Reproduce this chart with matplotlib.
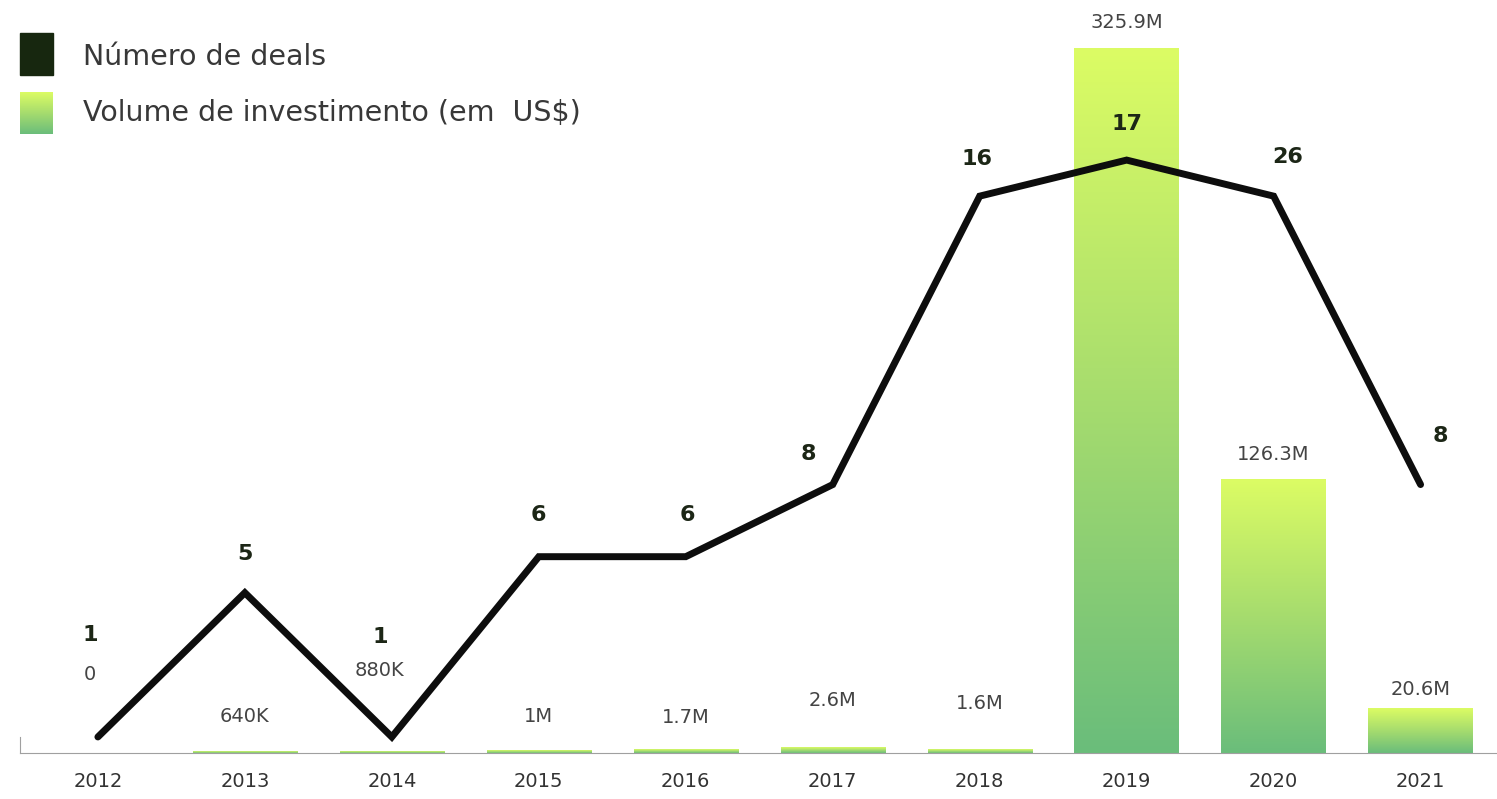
import matplotlib.pyplot as plt
import numpy as np
from matplotlib.colors import LinearSegmentedColormap
from matplotlib.patches import Rectangle

years = ["2012", "2013", "2014", "2015", "2016", "2017", "2018", "2019", "2020", "2021"]

# Investment volume in millions of US$
volume = [0, 0.64, 0.88, 1.0, 1.7, 2.6, 1.6, 325.9, 126.3, 20.6]
volume_labels = ["0", "640K", "880K", "1M", "1.7M", "2.6M", "1.6M", "325.9M", "126.3M", "20.6M"]

# Number of deals (line as drawn) and the numbers printed above it
deals = [1, 5, 1, 6, 6, 8, 16, 17, 16, 8]
deal_labels = ["1", "5", "1", "6", "6", "8", "16", "17", "26", "8"]

# label offsets in pixels (dx, dy) from the top of each bar / line point
vol_off = [(-8, 78), (0, 35), (-12, 81), (0, 34), (0, 32), (0, 47), (0, 46), (0, 26), (0, 25), (0, 19)]
deal_off = [(-8, 102), (0, 39), (-12, 100), (0, 42), (2, 42), (-24, 31), (-3, 37), (0, 36), (14, 39), (20, 49)]

green = LinearSegmentedColormap.from_list("greens", ["#6abd7b", "#a6dc6e", "#dcfc64"])
grad = np.linspace(0, 1, 256).reshape(-1, 1)

fig = plt.figure(figsize=(14.97, 7.99), dpi=100)
ax = fig.add_axes([20 / 1497, 46 / 799, 1 - 20 / 1497, 753 / 799])
x = np.arange(len(years))

bars = ax.bar(x, volume, width=0.71, color="none")
for b in bars:
    if b.get_height() <= 0:
        continue
    ax.imshow(grad, cmap=green, origin="lower", aspect="auto", interpolation="bicubic",
              extent=[b.get_x(), b.get_x() + b.get_width(), 0, b.get_height()], zorder=1)

for i, (v, t) in enumerate(zip(volume, volume_labels)):
    ax.annotate(t, (x[i], v), xytext=vol_off[i], textcoords="offset pixels",
                ha="center", va="center", fontsize=14, color="#444444")

ax.set_xlim(-0.53, 9.52)
ax.set_ylim(0, 348.1)
for s in ["top", "right"]:
    ax.spines[s].set_visible(False)
ax.spines["bottom"].set_color("#a0a0a0")
ax.spines["left"].set_color("#a0a0a0")
ax.spines["left"].set_bounds(0, 7.4)
ax.set_yticks([])
ax.set_xticks(x, years)
ax.tick_params(axis="x", length=0, pad=14, labelsize=14, labelcolor="#333333")

# deals line on its own scale
ax2 = ax.twinx()
ax2.plot(x, deals, color="#0d0d0d", linewidth=5, solid_capstyle="round", solid_joinstyle="miter", zorder=3)
for i, (d, t) in enumerate(zip(deals, deal_labels)):
    ax2.annotate(t, (x[i], d), xytext=deal_off[i], textcoords="offset pixels",
                 ha="center", va="center", fontsize=16, fontweight="heavy", color="#1c2616")
ax2.set_ylim(0.555, 21.44)
ax2.set_yticks([])
for s in ax2.spines.values():
    s.set_visible(False)

# legend
fig.patches.append(Rectangle((20 / 1497, 724 / 799), 33 / 1497, 42 / 799,
                             transform=fig.transFigure, color="#17270f"))
sw = fig.add_axes([20 / 1497, 665 / 799, 33 / 1497, 42 / 799])
sw.imshow(grad, cmap=green, origin="lower", aspect="auto")
sw.axis("off")
fig.text(83 / 1497, 742 / 799, "Número de deals", fontsize=20.5, color="#383838", va="center")
fig.text(83 / 1497, 686 / 799, "Volume de investimento (em  US$)", fontsize=20.5, color="#383838", va="center")

fig.savefig("out.png", dpi=100)
